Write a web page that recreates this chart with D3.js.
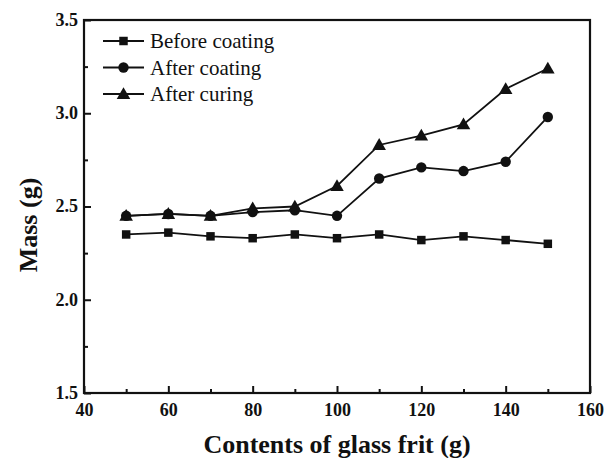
<!DOCTYPE html>
<html>
<head>
<meta charset="UTF-8">
<style>
  body { margin: 0; background: #fff; }
  text { font-family: "Liberation Serif", "Times New Roman", serif; }
</style>
</head>
<body>
<script src="https://d3js.org/d3.v7.min.js"></script>
<script>
const contents = [50, 60, 70, 80, 90, 100, 110, 120, 130, 140, 150];
const beforeCoating = [2.35, 2.36, 2.34, 2.33, 2.35, 2.33, 2.35, 2.32, 2.34, 2.32, 2.30];
const afterCoating = [2.45, 2.46, 2.45, 2.47, 2.48, 2.45, 2.65, 2.71, 2.69, 2.74, 2.98];
const afterCuring = [2.45, 2.46, 2.45, 2.49, 2.50, 2.61, 2.83, 2.88, 2.94, 3.13, 3.24];
const seriesNames = ["Before coating", "After coating", "After curing"];
const xTicks = [40, 60, 80, 100, 120, 140, 160];
const yTicks = [1.5, 2.0, 2.5, 3.0, 3.5];

const width = 613, height = 458;
const m = {left: 84, right: 23, top: 20, bottom: 65};

const svg = d3.select("body").append("svg").attr("width", width).attr("height", height);

const x = d3.scaleLinear().domain([40, 160]).range([m.left, width - m.right]);
const y = d3.scaleLinear().domain([1.5, 3.5]).range([height - m.bottom, m.top]);

// ticks point inward, minor ticks unlabeled
const xAxis = d3.axisBottom(x).tickValues(d3.range(40, 161, 10)).tickSizeInner(-7).tickSizeOuter(0)
  .tickFormat(d => xTicks.includes(d) ? d : "");
const yAxis = d3.axisLeft(y).tickValues(d3.range(1.5, 3.51, 0.25)).tickSizeInner(-7).tickSizeOuter(0)
  .tickFormat(d => yTicks.some(t => Math.abs(t - d) < 1e-6) ? d3.format(".1f")(d) : "");

const gx = svg.append("g").attr("transform", `translate(0,${height - m.bottom})`).call(xAxis);
const gy = svg.append("g").attr("transform", `translate(${m.left},0)`).call(yAxis);

[gx, gy].forEach(g => {
  g.attr("font-family", "Liberation Serif, serif").attr("font-size", 18);
  g.select(".domain").remove();
  g.selectAll(".tick line").attr("stroke", "#111").attr("stroke-width", 2);
  g.selectAll(".tick text").attr("font-weight", "bold").attr("fill", "#111");
});
gx.selectAll(".tick line").attr("y2", d => xTicks.includes(d) ? -7 : -4);
gy.selectAll(".tick line").attr("x2", d => yTicks.some(t => Math.abs(t - d) < 1e-6) ? 7 : 4);
gx.selectAll(".tick text").attr("y", 0).attr("dy", 23);
gy.selectAll(".tick text").attr("x", -6).attr("dy", "0.3em");

svg.append("rect")
  .attr("x", m.left).attr("y", m.top)
  .attr("width", width - m.left - m.right).attr("height", height - m.top - m.bottom)
  .attr("fill", "none").attr("stroke", "#111").attr("stroke-width", 2.2);

const data = [beforeCoating, afterCoating, afterCuring];
const symbols = [d3.symbolSquare, d3.symbolCircle, d3.symbolTriangle];
const sizes = [72, 85, 80];

const line = d3.line().x((d, i) => x(contents[i])).y(d => y(d));

data.forEach((vals, k) => {
  svg.append("path").datum(vals).attr("d", line)
    .attr("fill", "none").attr("stroke", "#111").attr("stroke-width", 1.8);
  svg.append("g").selectAll("path").data(vals).join("path")
    .attr("d", d3.symbol().type(symbols[k]).size(sizes[k]))
    .attr("transform", (d, i) => `translate(${x(contents[i])},${y(d) + (k === 2 ? 1 : 0)})`)
    .attr("fill", "#111");
});

// legend
const legend = svg.append("g");
seriesNames.forEach((name, k) => {
  const ly = 41 + k * 26.5;
  legend.append("line").attr("x1", 103).attr("x2", 144).attr("y1", ly).attr("y2", ly)
    .attr("stroke", "#111").attr("stroke-width", 1.8);
  legend.append("path").attr("d", d3.symbol().type(symbols[k]).size(sizes[k])())
    .attr("transform", `translate(123.5,${ly + (k === 2 ? 1 : 0)})`).attr("fill", "#111");
  legend.append("text").attr("x", 150).attr("y", ly).attr("dy", "0.35em")
    .attr("font-size", 21).attr("fill", "#111").text(name);
});

svg.append("text")
  .attr("x", (m.left + width - m.right) / 2).attr("y", 453)
  .attr("text-anchor", "middle").attr("font-size", 26).attr("font-weight", "bold").attr("fill", "#111")
  .text("Contents of glass frit (g)");

svg.append("text")
  .attr("transform", `translate(37,225) rotate(-90)`)
  .attr("text-anchor", "middle").attr("font-size", 26).attr("font-weight", "bold").attr("fill", "#111")
  .text("Mass (g)");
</script>
</body>
</html>
